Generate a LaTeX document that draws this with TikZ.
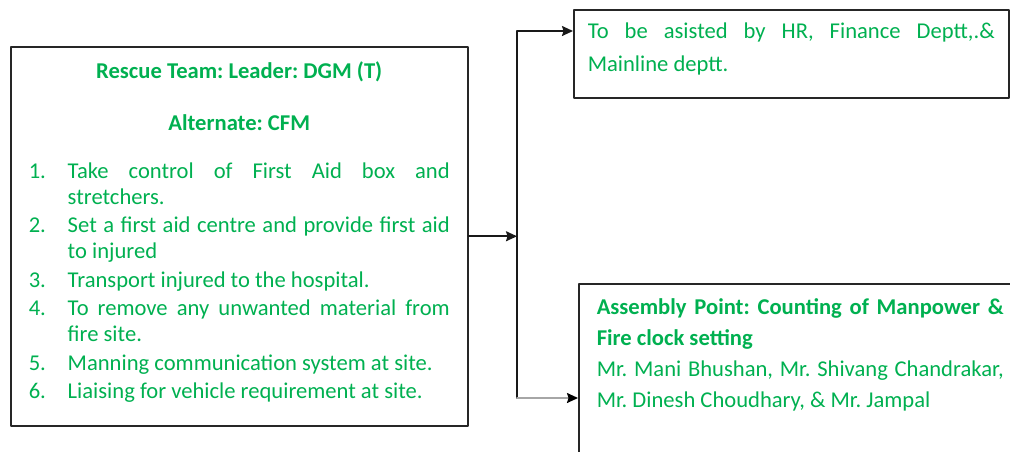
\documentclass[tikz,border=0pt]{standalone}
\usepackage{fontspec}
\setmainfont{Carlito}
\usetikzlibrary{arrows.meta,positioning,calc}

\definecolor{teamgreen}{RGB}{0,176,80}
\frenchspacing
\tolerance=10000
\hyphenpenalty=10000
\hbadness=10000

% numbered line with hanging indent
\newcommand{\numitem}[2]{\par\vspace{2.5pt}\hangindent=39pt\hangafter=1\noindent\makebox[39pt][l]{#1}#2}

\begin{document}
\begin{tikzpicture}[x=1pt, y=-1pt, >={Stealth[length=11pt,width=10pt,inset=1.5pt]}, line cap=round, line join=round,
  box/.style={draw=black!85, line width=1.5pt, anchor=north west, align=justify, text=teamgreen, inner ysep=0pt},
  link/.style={->, line width=1.6pt, black!90}]

\useasboundingbox (0,0) rectangle (1010,451);

\node[box, text width=421pt, inner xsep=18pt, minimum height=379pt, font=\fontsize{22.6}{26}\selectfont] (rescue) at (10,46) {%
{\centering\bfseries Rescue Team: Leader: DGM (T)\par}
\vspace{26pt}
{\centering\bfseries Alternate: CFM\par}
\vspace{19.5pt}
\numitem{1.}{Take control of First Aid box and\linebreak stretchers.}
\numitem{2.}{Set a first aid centre and provide first aid\linebreak to injured}
\numitem{3.}{Transport injured to the hospital.}
\numitem{4.}{To remove any unwanted material from\linebreak fire site.}
\numitem{5.}{Manning communication system at site.}
\numitem{6.}{Liaising for vehicle requirement at site.}
\par\vspace*{8pt}};

\node[box, text width=407pt, inner xsep=14pt, minimum height=88pt, font=\fontsize{22.6}{33}\selectfont] (aid) at (573,9) {%
To be asisted by HR, Finance Deptt,.\&\linebreak Mainline deptt.\par\vspace*{10pt}};

\node[box, text width=407pt, inner xsep=18pt, minimum height=187pt, font=\fontsize{22.6}{31}\selectfont] (assembly) at (578,283) {%
\textbf{Assembly Point: Counting of Manpower \&\linebreak Fire clock setting}\par
Mr. Mani Bhushan, Mr. Shivang Chandrakar,\linebreak Mr. Dinesh Choudhary, \& Mr. Jampal\par\vspace*{45pt}};

\coordinate (jtop) at (517,31);
\coordinate (jbot) at (517,398);
\draw[line width=1.6pt, black!90] (jtop) -- (jbot);
\draw[link] (rescue.east) -- (rescue.east -| jtop);
\draw[link] (jtop) -- (jtop -| aid.west);
\draw[link, black!35, -{Stealth[length=11pt,width=10pt,inset=1.5pt,color=black]}] (jbot) -- (jbot -| assembly.west);

\end{tikzpicture}
\end{document}
